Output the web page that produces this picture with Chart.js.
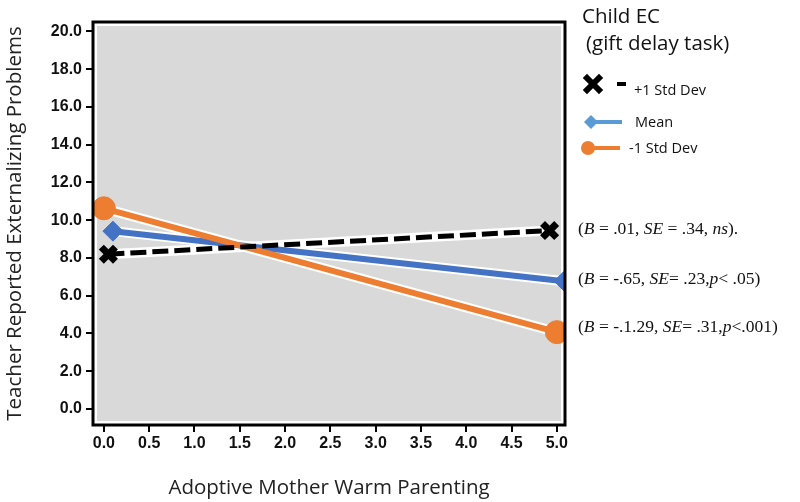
<!DOCTYPE html>
<html>
<head>
<meta charset="utf-8">
<script src="https://cdn.jsdelivr.net/npm/chart.js@4.4.1/dist/chart.umd.min.js"></script>
<style>
  html, body { margin: 0; padding: 0; background: #fff; }
  #wrap { position: relative; width: 800px; height: 502px; }
  .lg { position: absolute; font-family: "Open Sans", "Noto Sans", sans-serif; color: #111; white-space: nowrap; }
  .ttl { font-size: 20.5px; }
  .item { font-size: 14.5px; }
  .stat { position: absolute; font-family: "Liberation Serif", "DejaVu Serif", serif; font-size: 17.5px; color: #111; white-space: nowrap; }
  svg { position: absolute; overflow: visible; }
</style>
</head>
<body>
<div id="wrap">
  <canvas id="c" width="800" height="502"></canvas>

  <div class="lg ttl" style="left:582px; top:1px;">Child EC</div>
  <div class="lg ttl" style="left:586px; top:28px;">(gift delay task)</div>

  <svg style="left:582px; top:74px;" width="50" height="20">
    <path d="M5 4 L17 16 M17 4 L5 16" stroke="#000" stroke-width="6" stroke-linecap="square"/>
    <line x1="35" y1="10" x2="44" y2="10" stroke="#000" stroke-width="4"/>
  </svg>
  <div class="lg item" style="left:634px; top:80px;">+1 Std Dev</div>

  <svg style="left:582px; top:112px;" width="50" height="20">
    <polygon points="2,10 9,3 16,10 9,17" fill="#5B9BD5"/>
    <line x1="9" y1="10" x2="40" y2="10" stroke="#5B9BD5" stroke-width="4"/>
  </svg>
  <div class="lg item" style="left:635px; top:112px;">Mean</div>

  <svg style="left:578px; top:138px;" width="50" height="20">
    <line x1="10" y1="10" x2="42" y2="10" stroke="#ED7D31" stroke-width="4"/>
    <circle cx="10" cy="10" r="7" fill="#ED7D31"/>
  </svg>
  <div class="lg item" style="left:629px; top:138px;">-1 Std Dev</div>

  <div class="stat" style="left:578px; top:218px;">(<i>B</i> = .01, <i>SE</i> = .34, <i>ns</i>).</div>
  <div class="stat" style="left:578px; top:268px;">(<i>B</i> = -.65, <i>SE</i>= .23,<i>p</i>&lt; .05)</div>
  <div class="stat" style="left:578px; top:316px;">(<i>B</i> = -.1.29, <i>SE</i>= .31,<i>p</i>&lt;.001)</div>
</div>

<script>
// values
const xTicks = [0, 0.5, 1, 1.5, 2, 2.5, 3, 3.5, 4, 4.5, 5];
const yTicks = [0, 2, 4, 6, 8, 10, 12, 14, 16, 18, 20];

const plusSdX = [0.05, 4.92];
const plusSdY = [8.2, 9.45];
const meanX = [0.1, 5.08];
const meanY = [9.42, 6.77];
const minusSdX = [0, 5.0];
const minusSdY = [10.63, 4.07];

const pts = (xs, ys) => xs.map((x, i) => ({ x, y: ys[i] }));

function halo(xs, ys, w) {
  return {
    data: pts(xs, ys), borderColor: '#fff', borderWidth: w,
    pointRadius: 0, order: 10, clip: 0
  };
}

const frame = {
  id: 'frame',
  beforeDatasetsDraw(chart) {
    const { ctx, chartArea: a } = chart;
    ctx.save();
    ctx.fillStyle = '#D9D9D9';
    ctx.fillRect(a.left + 4, a.top + 4, a.right - a.left - 8, a.bottom - a.top - 8);
    ctx.restore();
  },
  afterDatasetsDraw(chart) {
    const { ctx, chartArea: a } = chart;
    ctx.save();
    ctx.strokeStyle = '#000';
    ctx.lineWidth = 3;
    ctx.strokeRect(a.left, a.top, a.right - a.left, a.bottom - a.top);
    ctx.restore();
  }
};

const tickFont = { family: '"Liberation Sans", Arial, sans-serif', size: 16, weight: 'bold' };
const titleFont = { family: '"Open Sans", "Noto Sans", sans-serif', size: 20.5 };

new Chart(document.getElementById('c'), {
  type: 'line',
  data: {
    datasets: [
      halo(plusSdX, plusSdY, 10),
      halo(meanX, meanY, 10),
      halo(minusSdX, minusSdY, 10),
      {
        data: pts(meanX, meanY), borderColor: '#4472C4', borderWidth: 6,
        pointStyle: 'rectRot', pointRadius: 10, pointBackgroundColor: '#4472C4',
        pointBorderColor: '#4472C4', pointBorderWidth: 1, order: 3, clip: 0
      },
      {
        data: pts(minusSdX, minusSdY), borderColor: '#ED7D31', borderWidth: 6,
        pointStyle: 'circle', pointRadius: 11.5, pointBackgroundColor: '#ED7D31',
        pointBorderColor: '#ED7D31', pointBorderWidth: 1, order: 2, clip: 0
      },
      {
        data: pts(plusSdX, plusSdY), borderColor: '#000', borderWidth: 5,
        borderDash: [16, 6],
        pointStyle: 'crossRot', pointRadius: 10, pointBorderColor: '#000',
        pointBorderWidth: 7, order: 1, clip: 0
      }
    ]
  },
  plugins: [frame],
  options: {
    responsive: false,
    animation: false,
    layout: { padding: { top: 22, right: 235, left: 0, bottom: 0 } },
    plugins: { legend: { display: false }, tooltip: { enabled: false } },
    scales: {
      x: {
        type: 'linear', min: -0.12, max: 5.09,
        afterBuildTicks: s => { s.ticks = xTicks.map(v => ({ value: v })); },
        afterFit: s => { s.height = 77; },
        grid: { drawOnChartArea: false, drawTicks: true, tickLength: 7, color: '#000', lineWidth: 2 },
        border: { display: false },
        ticks: { color: '#111', font: tickFont, padding: 2, maxRotation: 0, callback: v => v.toFixed(1) },
        title: { display: true, text: 'Adoptive Mother Warm Parenting', color: '#222', font: titleFont, padding: { top: 0, bottom: 2 } }
      },
      y: {
        type: 'linear', min: -0.85, max: 20.5,
        afterBuildTicks: s => { s.ticks = yTicks.map(v => ({ value: v })); },
        afterFit: s => { s.width = 93; },
        grid: { drawOnChartArea: false, drawTicks: true, tickLength: 7, color: '#000', lineWidth: 2 },
        border: { display: false },
        ticks: { color: '#111', font: tickFont, padding: 4, callback: v => v.toFixed(1) },
        title: { display: true, text: 'Teacher Reported Externalizing Problems', color: '#222', font: titleFont, padding: { top: 3, bottom: 0 } }
      }
    }
  }
});
</script>
</body>
</html>
